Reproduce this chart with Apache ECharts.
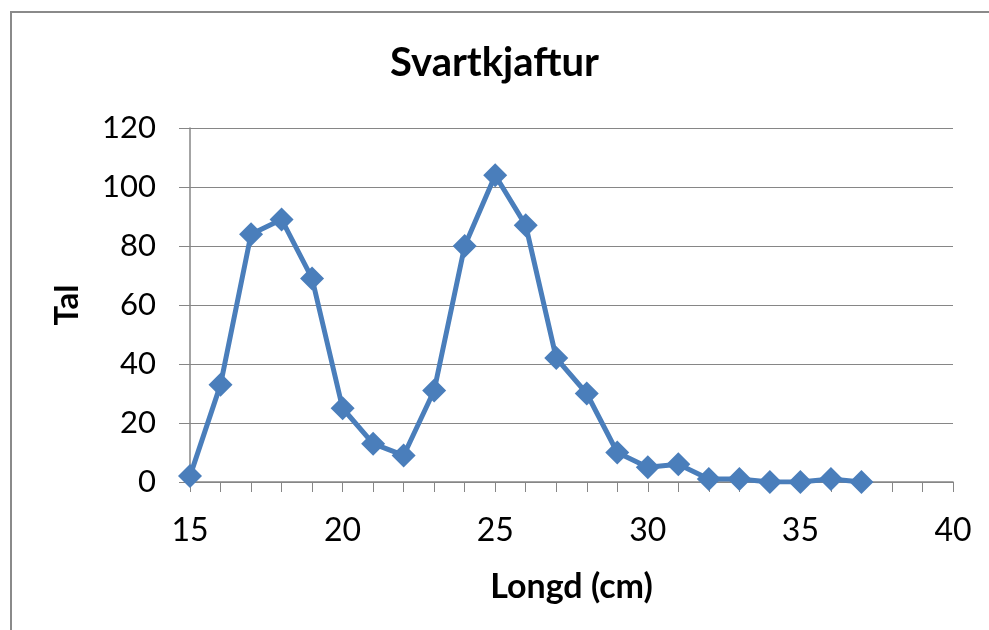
<!DOCTYPE html>
<html>
<head>
<meta charset="utf-8">
<script src="https://cdn.jsdelivr.net/npm/echarts@6/dist/echarts.min.js"></script>
<style>html,body{margin:0;padding:0;background:#fff}#c{width:989px;height:630px}</style>
</head>
<body>
<div id="c"></div>
<script>
const titleText = "Svartkjaftur";
const xName = "Longd (cm)";
const yName = "Tal";
const lengths = [15,16,17,18,19,20,21,22,23,24,25,26,27,28,29,30,31,32,33,34,35,36,37];
const counts  = [2,33,84,89,69,25,13,9,31,80,104,87,42,30,10,5,6,1,1,0,0,1,0];

const chart = echarts.init(document.getElementById('c'), null, {renderer:'canvas'});
const FONT = 'Lato';
chart.setOption({
  animation:false,
  backgroundColor:'#fff',
  graphic:[{type:'rect', shape:{x:11,y:12,width:1100,height:800}, style:{fill:'none', stroke:'#8a8a8a', lineWidth:2}, silent:true}],
  title:{text:titleText, left:'center', top:38, textStyle:{fontFamily:FONT, fontWeight:'bold', fontSize:40, color:'#000'}},
  grid:{left:190, right:36, top:128, bottom:148},
  xAxis:{type:'value', min:15, max:40, interval:5,
    name:xName, nameLocation:'middle', nameGap:88,
    nameTextStyle:{fontFamily:FONT, fontWeight:'bold', fontSize:34, color:'#000'},
    axisLine:{lineStyle:{color:'#868686', width:1.5}},
    axisTick:{show:true, length:10, lineStyle:{color:'#868686'}},
    minorTick:{show:true, splitNumber:5, length:10, lineStyle:{color:'#868686'}},
    axisLabel:{fontFamily:FONT, fontSize:32, color:'#000', margin:33},
    splitLine:{show:false}},
  yAxis:{type:'value', min:0, max:120, interval:20,
    name:yName, nameLocation:'middle', nameGap:106, nameRotate:90,
    nameTextStyle:{fontFamily:FONT, fontWeight:'bold', fontSize:33, color:'#000'},
    axisLine:{show:true, lineStyle:{color:'#868686', width:1.5}},
    axisTick:{show:true, length:11, lineStyle:{color:'#868686'}},
    axisLabel:{fontFamily:FONT, fontSize:31, color:'#000', margin:34},
    splitLine:{show:true, lineStyle:{color:'#868686', width:1.2}}},
  series:[{type:'line', data:lengths.map((x,i)=>[x,counts[i]]),
    symbol:'diamond', symbolSize:24,
    lineStyle:{color:'#4a7ebb', width:5},
    itemStyle:{color:'#4a7ebb'}}]
});
</script>
</body>
</html>
